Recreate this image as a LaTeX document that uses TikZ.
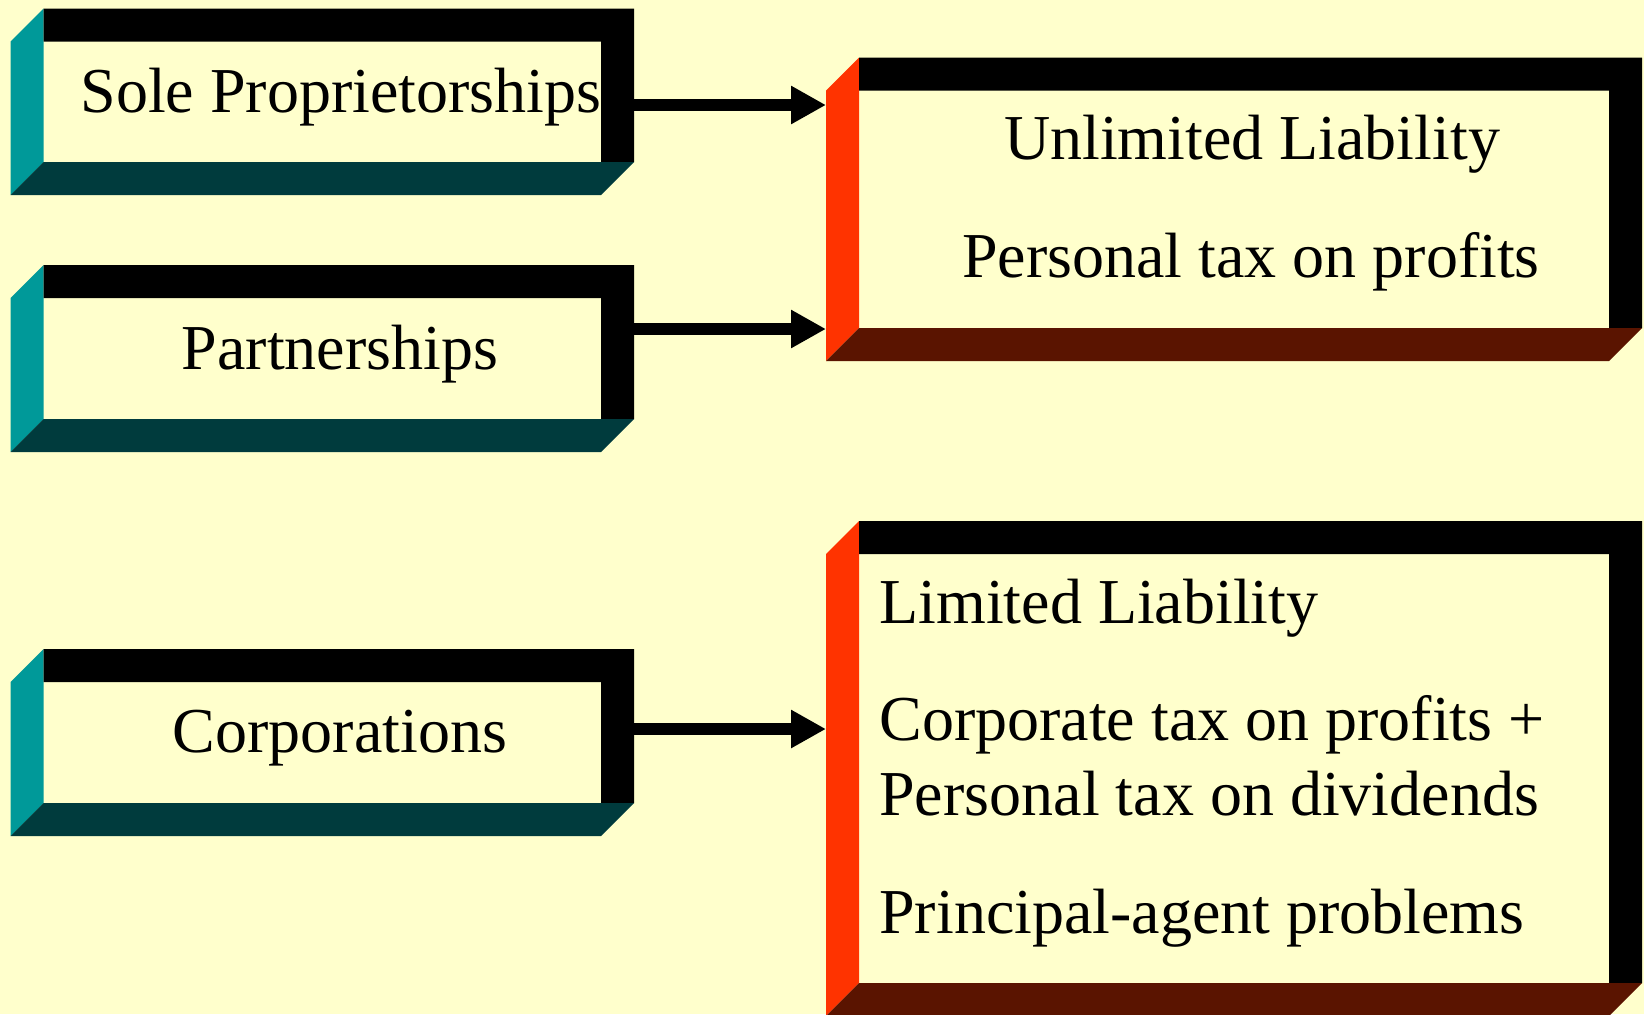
\documentclass[tikz,border=0pt]{standalone}
\usepackage{fontspec}
\setmainfont{Liberation Serif}
\usetikzlibrary{arrows.meta}
\definecolor{paleyellow}{RGB}{255,255,204}
\definecolor{sideteal}{RGB}{0,153,153}
\definecolor{darkteal}{RGB}{0,59,61}
\definecolor{sideorange}{RGB}{255,51,0}
\definecolor{darkbrown}{RGB}{90,20,0}

% raised slab: #1 name, (#2,#3) top left, (#4,#5) bottom right, #6 side face, #7 bottom face
\newcommand{\slabbox}[7]{
	\fill[#6] (#2,#3+33) -- (#2+33,#3) -- (#2+33,#5-33) -- (#2,#5) -- cycle;
	\fill[black] (#2+33,#3) -- (#4,#3) -- (#4,#5-33) -- (#4-33,#5-33) -- (#4-33,#3+33) -- (#2+33,#3+33) -- cycle;
	\fill[#7] (#2,#5) -- (#2+33,#5-33) -- (#4,#5-33) -- (#4-33,#5) -- cycle;
	\coordinate (#1-nw) at (#2,#3);
	\coordinate (#1-se) at (#4,#5);
}

\begin{document}
\begin{tikzpicture}[x=0.5pt, y=-0.5pt, boxtext/.style={inner sep=0, font=\fontsize{32}{38}\selectfont}, link/.style={line width=6pt, -{Triangle[length=17.5pt,width=18pt]}}]
	\fill[paleyellow] (0,0) rectangle (1644,1014);
	\useasboundingbox (0,0) rectangle (1644,1014);
	\begin{scope}
		\clip (0,0) rectangle (1644,1014);
		\slabbox{sole}{10.5}{8.5}{634}{195}{sideteal}{darkteal}
		\slabbox{part}{10.5}{265}{634}{452}{sideteal}{darkteal}
		\slabbox{corp}{10.5}{649}{634}{836}{sideteal}{darkteal}
		\slabbox{unlim}{826}{57.5}{1642}{361}{sideorange}{darkbrown}
		\slabbox{lim}{826}{521}{1642}{1016}{sideorange}{darkbrown}
	\end{scope}
	% left column
	\node[boxtext, anchor=base] (soletext) at (341,112) {Sole Proprietorships};
	\node[boxtext, anchor=base] (parttext) at (340,369) {Partnerships};
	\node[boxtext, anchor=base] (corptext) at (340,752) {Corporations};
	% right column
	\node[boxtext, anchor=base] (unlimtext) at (1252,159) {Unlimited Liability};
	\node[boxtext, anchor=base] (ptaxtext) at (1251,277) {Personal tax on profits};
	\node[boxtext, anchor=base west] (limtext) at (879,623) {Limited Liability};
	\node[boxtext, anchor=base west] (ctaxtext) at (879,740) {Corporate tax on profits +};
	\node[boxtext, anchor=base west] (divtext) at (879,815) {Personal tax on dividends};
	\node[boxtext, anchor=base west] (pagenttext) at (879,933) {Principal-agent problems};
	% arrows
	\draw[link] (sole-se |- 0,105) -- (unlim-nw |- 0,105);
	\draw[link] (part-se |- 0,329) -- (unlim-nw |- 0,329);
	\draw[link] (corp-se |- 0,729) -- (lim-nw |- 0,729);
\end{tikzpicture}
\end{document}
